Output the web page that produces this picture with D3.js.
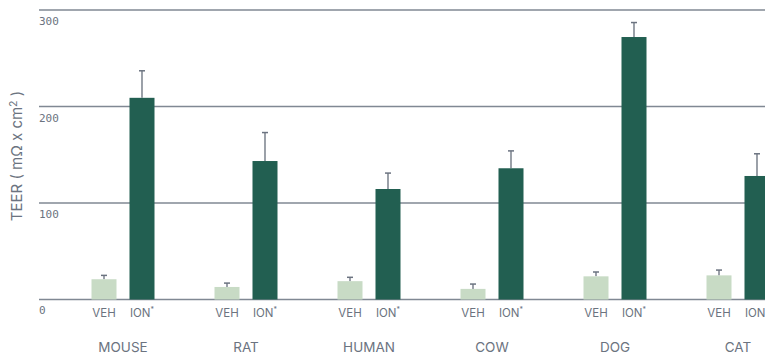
<!DOCTYPE html>
<html>
<head>
<meta charset="utf-8">
<script src="https://cdn.jsdelivr.net/npm/d3@7"></script>
<style>
  body { margin: 0; background: #fff; }
  svg { display: block; }
</style>
</head>
<body>
<div id="chart"></div>
<script>
const svgWidth = 765
const svgHeight = 355

const species = ["MOUSE", "RAT", "HUMAN", "COW", "DOG", "CAT"]
const treatments = ["VEH", "ION"]
const vehValues = [21, 13, 19, 11, 24, 25]
const vehErrors = [4, 4, 4, 5, 4.5, 5.5]
const ionValues = [209, 143.5, 114.5, 136, 272, 128]
const ionErrors = [28, 29.5, 16.5, 18, 15, 23]
const yTicks = [0, 100, 200, 300]

const colors = { VEH: "#c8dbc5", ION: "#225f51" }
const textGray = "#6b7380"

const svg = d3.select("#chart").append("svg")
    .attr("width", svgWidth)
    .attr("height", svgHeight)

const y = d3.scaleLinear()
    .domain([0, 300])
    .range([299.5, 10])

const x0 = d3.scaleBand()
    .domain(species)
    .range([61.5, 799.5])
    .paddingInner(0.4878)
    .paddingOuter(0.2439)

const x1 = d3.scaleBand()
    .domain(treatments)
    .range([0, x0.bandwidth()])
    .paddingInner(0.342)

// gridlines + tick labels
const grid = svg.append("g")
grid.selectAll("line")
    .data(yTicks)
    .enter()
    .append("line")
    .attr("x1", 39)
    .attr("x2", svgWidth)
    .attr("y1", d => y(d))
    .attr("y2", d => y(d))
    .attr("stroke", "#808893")
    .attr("stroke-width", 1.3)

grid.selectAll("text")
    .data(yTicks)
    .enter()
    .append("text")
    .attr("x", 39)
    .attr("y", d => y(d) + (d === 0 ? 14 : 15))
    .attr("font-family", "DejaVu Sans Mono")
    .attr("font-size", 11)
    .attr("fill", textGray)
    .text(d => d)

// y label
const yLabel = svg.append("text")
    .attr("transform", "translate(22, 156) rotate(-90)")
    .attr("text-anchor", "middle")
    .attr("font-family", "Inter")
    .attr("font-size", 15)
    .attr("fill", textGray)
yLabel.append("tspan").text("TEER ( m\u03a9 x cm")
yLabel.append("tspan").attr("dy", -5).attr("font-size", 10.5).text("2")
yLabel.append("tspan").attr("dy", 5).text(" )")

const rows = species.map((s, i) => ({
    species: s,
    bars: [
        { key: "VEH", value: vehValues[i], err: vehErrors[i] },
        { key: "ION", value: ionValues[i], err: ionErrors[i] }
    ]
}))

const groups = svg.selectAll("g.group")
    .data(rows)
    .enter()
    .append("g")
    .attr("class", "group")
    .attr("transform", d => `translate(${x0(d.species)}, 0)`)

const bar = groups.selectAll("g.bar")
    .data(d => d.bars)
    .enter()
    .append("g")
    .attr("class", "bar")

// error bars (drawn behind the bars)
bar.append("line")
    .attr("x1", d => x1(d.key) + x1.bandwidth() / 2)
    .attr("x2", d => x1(d.key) + x1.bandwidth() / 2)
    .attr("y1", d => y(d.value))
    .attr("y2", d => y(d.value + d.err))
    .attr("stroke", "#7a818c")
    .attr("stroke-width", 1.5)

bar.append("line")
    .attr("x1", d => x1(d.key) + x1.bandwidth() / 2 - 3)
    .attr("x2", d => x1(d.key) + x1.bandwidth() / 2 + 3)
    .attr("y1", d => y(d.value + d.err))
    .attr("y2", d => y(d.value + d.err))
    .attr("stroke", "#6b7380")
    .attr("stroke-width", 1.5)

bar.append("rect")
    .attr("x", d => x1(d.key))
    .attr("width", x1.bandwidth())
    .attr("y", d => y(d.value))
    .attr("height", d => y(0) - y(d.value))
    .attr("fill", d => colors[d.key])

// treatment labels
const subLabel = bar.append("text")
    .attr("x", d => x1(d.key) + x1.bandwidth() / 2)
    .attr("y", 317)
    .attr("text-anchor", "middle")
    .attr("font-family", "Inter")
    .attr("font-size", 11.5)
    .attr("fill", textGray)
subLabel.append("tspan").text(d => d.key)
subLabel.filter(d => d.key === "ION")
    .append("tspan")
    .attr("dy", -5)
    .attr("font-size", 7)
    .text("*")

// species labels
groups.append("text")
    .attr("x", x0.bandwidth() / 2)
    .attr("y", 352)
    .attr("text-anchor", "middle")
    .attr("font-family", "Inter")
    .attr("font-size", 13.5)
    .attr("fill", textGray)
    .text(d => d.species)
</script>
</body>
</html>
